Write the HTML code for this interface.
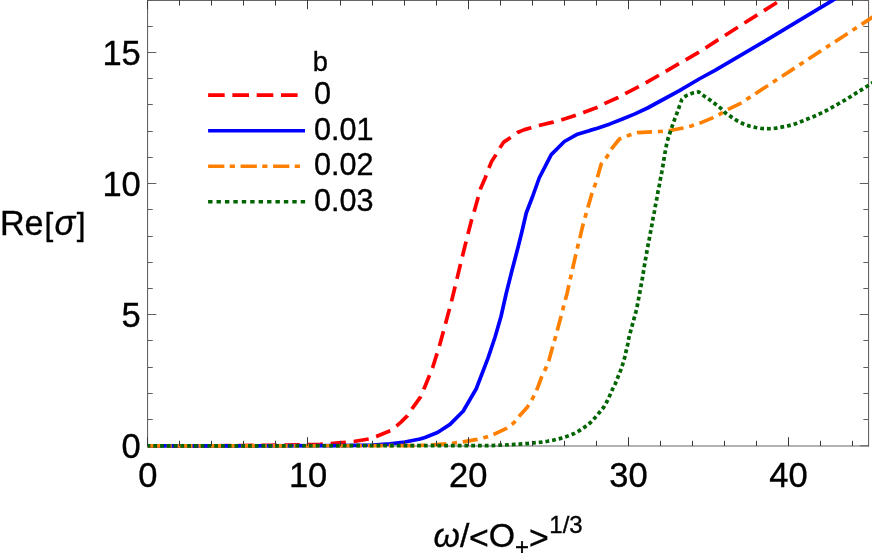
<!DOCTYPE html>
<html><head><meta charset="utf-8"><title>plot</title>
<style>
html,body{margin:0;padding:0;background:#fff;}
body{width:872px;height:553px;overflow:hidden;}
svg{display:block;}
text{font-family:"Liberation Sans",sans-serif;fill:#000;stroke:#000;stroke-width:0.35px;}
</style></head><body>
<svg width="872" height="553" viewBox="0 0 872 553">
<rect width="872" height="553" fill="#fff"/>
<path d="M147.55 446.40 V0.50 H868.55 V446.40" fill="none" stroke="#666666" stroke-width="1.1"/>
<path d="M147.05 446.00 H869.05" fill="none" stroke="#666666" stroke-width="1.2"/>
<path d="M147.55 445.80 h8.8 M868.55 445.80 h-8.6" fill="none" stroke="#585858" stroke-width="0.9"/>
<g fill="none" stroke-width="3.70" stroke-linejoin="round">
<path d="M147.75 445.90 L215.00 445.85 L240.00 445.50 L270.00 445.30 L300.00 444.95 L320.00 444.30 L338.75 442.90 L353.75 441.50 L368.75 439.00 L376.25 436.50 L390.60 430.60 L396.90 425.60 L401.25 421.90 L407.50 415.60 L412.50 408.10 L420.60 396.90 L425.60 385.00 L432.75 367.25 L439.40 346.00 L447.50 316.30 L451.50 301.40 L455.00 287.00 L460.40 264.50 L464.70 247.00 L467.90 234.25 L471.60 219.90 L474.10 211.75 L478.10 197.40 L480.60 188.50 L485.20 178.00 L488.75 168.40 L491.90 160.90 L495.60 155.25 L500.00 147.75 L503.75 142.10 L510.60 137.50 L517.50 132.50 L524.40 129.60 L531.25 127.75 L538.75 125.60 L553.10 122.10 L561.25 119.90 L572.00 116.60 L583.50 112.40 L596.90 107.50 L604.40 103.70 L618.10 97.50 L625.00 93.75 L645.60 83.00 L667.50 70.30 L698.10 52.70 L724.40 35.80 L764.00 10.60 L790.00 -5.70" stroke="#ff0000" stroke-dasharray="15.3 7.8" stroke-dashoffset="1.9"/>
<path d="M147.75 445.90 L340.00 445.70 L372.50 445.10 L390.00 443.80 L405.00 442.00 L420.00 439.00 L425.00 437.50 L437.50 432.50 L450.00 424.40 L463.10 411.25 L476.25 388.75 L488.10 357.90 L495.00 337.25 L501.00 316.50 L506.25 293.25 L511.90 270.75 L518.10 247.00 L521.90 231.75 L526.25 213.00 L532.50 196.75 L539.20 178.00 L551.25 154.60 L564.40 141.50 L577.50 134.20 L590.00 130.40 L597.50 128.30 L610.00 123.90 L622.50 119.00 L635.00 113.90 L647.50 108.00 L665.00 98.50 L679.00 90.80 L700.00 78.50 L715.00 70.30 L764.00 41.60 L815.50 10.70 L831.00 1.30 L850.00 -10.30" stroke="#0000ff"/>
<path d="M147.75 445.90 L415.00 445.70 L432.50 444.90 L450.00 443.50 L463.10 441.90 L476.90 439.40 L485.60 437.25 L494.40 434.10 L506.90 428.10 L513.75 422.90 L519.40 415.90 L527.50 406.90 L532.90 397.90 L537.50 388.10 L541.50 377.25 L545.40 369.10 L548.75 361.00 L552.50 347.25 L555.00 338.75 L557.25 330.40 L561.00 316.60 L563.10 308.25 L567.20 293.00 L570.60 277.40 L574.20 261.70 L577.60 247.00 L580.00 237.40 L583.10 224.25 L585.60 215.50 L588.10 206.75 L591.90 193.60 L595.00 185.10 L597.50 177.10 L601.25 164.00 L607.10 156.50 L611.90 148.40 L619.40 139.00 L629.00 135.25 L637.50 132.60 L651.90 131.90 L660.25 131.50 L670.00 130.50 L683.10 128.00 L691.25 126.00 L700.00 123.10 L712.50 117.90 L720.60 113.75 L728.10 109.40 L740.60 103.30 L782.50 76.00 L873.00 16.90" stroke="#ff8000" stroke-dasharray="15.1 5.87 4.95 5.795" stroke-dashoffset="2.0"/>
<path d="M147.75 445.90 L490.00 445.60 L505.00 445.00 L520.00 444.10 L526.90 443.60 L533.75 442.90 L540.60 442.25 L547.50 441.25 L554.00 440.00 L560.60 438.40 L567.25 436.20 L573.75 433.75 L579.40 430.60 L585.00 426.90 L590.60 422.50 L595.00 417.75 L599.40 412.50 L603.50 407.50 L607.10 401.25 L610.00 395.00 L612.75 388.75 L615.20 384.00 L618.10 376.60 L620.60 370.40 L622.75 364.10 L624.75 357.25 L626.25 350.40 L627.75 344.10 L629.00 337.25 L636.00 311.40 L637.50 304.75 L638.75 298.00 L640.00 291.40 L641.25 284.50 L642.50 277.60 L643.50 271.40 L644.60 264.50 L645.75 258.00 L646.90 251.40 L648.10 244.90 L649.40 238.25 L650.60 231.75 L651.90 224.90 L653.10 218.00 L654.40 211.50 L655.60 204.60 L656.90 198.00 L658.10 191.10 L659.40 184.90 L660.60 178.00 L661.90 171.50 L663.10 164.60 L664.10 158.40 L665.25 151.50 L666.50 144.90 L668.10 138.40 L670.25 131.90 L672.50 125.25 L674.75 119.00 L677.25 112.50 L679.40 106.25 L681.90 99.40 L686.25 95.60 L692.50 93.10 L698.75 91.90 L704.40 96.25 L710.00 100.00 L715.00 103.75 L720.60 108.10 L725.60 113.10 L731.25 116.90 L736.90 120.60 L743.10 123.75 L749.40 126.00 L755.60 127.50 L761.90 128.50 L768.75 128.75 L775.60 128.25 L782.50 126.90 L789.00 125.60 L795.60 123.75 L801.90 121.25 L808.10 118.75 L814.40 116.25 L820.60 113.40 L826.90 110.25 L832.50 107.10 L838.50 103.75 L844.40 100.40 L850.60 96.60 L854.00 94.40 L873.00 82.60" stroke="#006400" stroke-dasharray="3.8 2.964" stroke-dashoffset="1.2"/>
</g>
<path d="M147.5 446.00 v-8.80 M147.5 0 v9.20 M179.5 446.00 v-5.20 M179.5 0 v5.60 M211.5 446.00 v-5.20 M211.5 0 v5.60 M243.5 446.00 v-5.20 M243.5 0 v5.60 M275.5 446.00 v-5.20 M275.5 0 v5.60 M307.5 446.00 v-8.80 M307.5 0 v9.20 M340.5 446.00 v-5.20 M340.5 0 v5.60 M372.5 446.00 v-5.20 M372.5 0 v5.60 M404.5 446.00 v-5.20 M404.5 0 v5.60 M436.5 446.00 v-5.20 M436.5 0 v5.60 M468.5 446.00 v-8.80 M468.5 0 v9.20 M500.5 446.00 v-5.20 M500.5 0 v5.60 M532.5 446.00 v-5.20 M532.5 0 v5.60 M564.5 446.00 v-5.20 M564.5 0 v5.60 M596.5 446.00 v-5.20 M596.5 0 v5.60 M628.5 446.00 v-8.80 M628.5 0 v9.20 M660.5 446.00 v-5.20 M660.5 0 v5.60 M692.5 446.00 v-5.20 M692.5 0 v5.60 M724.5 446.00 v-5.20 M724.5 0 v5.60 M756.5 446.00 v-5.20 M756.5 0 v5.60 M788.5 446.00 v-8.80 M788.5 0 v9.20 M820.5 446.00 v-5.20 M820.5 0 v5.60 M852.5 446.00 v-5.20 M852.5 0 v5.60" fill="none" stroke="#383838" stroke-width="1"/>
<path d="M147.55 419.5 h5.20 M868.55 419.5 h-5.20 M147.55 393.5 h5.20 M868.55 393.5 h-5.20 M147.55 367.5 h5.20 M868.55 367.5 h-5.20 M147.55 340.5 h5.20 M868.55 340.5 h-5.20 M147.55 314.5 h8.80 M868.55 314.5 h-8.80 M147.55 288.5 h5.20 M868.55 288.5 h-5.20 M147.55 262.5 h5.20 M868.55 262.5 h-5.20 M147.55 236.5 h5.20 M868.55 236.5 h-5.20 M147.55 209.5 h5.20 M868.55 209.5 h-5.20 M147.55 183.5 h8.80 M868.55 183.5 h-8.80 M147.55 157.5 h5.20 M868.55 157.5 h-5.20 M147.55 131.5 h5.20 M868.55 131.5 h-5.20 M147.55 104.5 h5.20 M868.55 104.5 h-5.20 M147.55 78.5 h5.20 M868.55 78.5 h-5.20 M147.55 52.5 h8.80 M868.55 52.5 h-8.80 M147.55 26.5 h5.20 M868.55 26.5 h-5.20 M147.55 0.5 h5.20 M868.55 0.5 h-5.20" fill="none" stroke="#606060" stroke-width="1"/>
<g fill="none" stroke-width="3.70">
<path d="M208.1 95.05 H305" stroke="#ff0000" stroke-dasharray="16.6 7.7"/>
<path d="M208.1 130.75 H305" stroke="#0000ff"/>
<path d="M208.1 166.25 H300" stroke="#ff8000" stroke-dasharray="16.25 5.4 5.2 5.65"/>
<path d="M208.1 201.75 H305.5" stroke="#006400" stroke-dasharray="4.4 4.02"/>
</g>
<filter id="g" filterUnits="userSpaceOnUse" x="0" y="0" width="872" height="553"><feOffset dx="0" dy="0"/></filter>
<g filter="url(#g)">
<text x="140.8" y="458.00" font-size="34.5" text-anchor="end">0</text>
<text x="140.8" y="326.90" font-size="34.5" text-anchor="end">5</text>
<text x="140.8" y="195.80" font-size="34.5" text-anchor="end">10</text>
<text x="140.8" y="64.70" font-size="34.5" text-anchor="end">15</text>
<text x="147.96" y="487.2" font-size="34.5" text-anchor="middle">0</text>
<text x="308.11" y="487.2" font-size="34.5" text-anchor="middle">10</text>
<text x="468.25" y="487.2" font-size="34.5" text-anchor="middle">20</text>
<text x="628.40" y="487.2" font-size="34.5" text-anchor="middle">30</text>
<text x="788.54" y="487.2" font-size="34.5" text-anchor="middle">40</text>
<text x="312.8" y="71.3" font-size="27.2">b</text>
<text x="314.0" y="104.00" font-size="30.6">0</text>
<text x="314.0" y="139.70" font-size="30.6">0.01</text>
<text x="314.0" y="175.20" font-size="30.6">0.02</text>
<text x="314.0" y="210.70" font-size="30.6">0.03</text>
<text x="-0.1" y="234.7" font-size="34.2">Re<tspan font-size="31.5" dx="0.9">[</tspan><tspan font-style="italic" dx="1.2">σ</tspan><tspan font-size="31.5" dx="1.7">]</tspan></text>
<text x="433.6" y="547" font-size="33.8"><tspan font-style="italic">ω</tspan>/<tspan dy="2.4" dx="-0.3">&lt;</tspan><tspan dy="-2.4">O</tspan><tspan font-size="24.0" dy="8">+</tspan><tspan dy="-5.6">&gt;</tspan><tspan font-size="24.0" dy="-16.4" dx="0.5">1/3</tspan></text>
</g>
</svg>
</body></html>
